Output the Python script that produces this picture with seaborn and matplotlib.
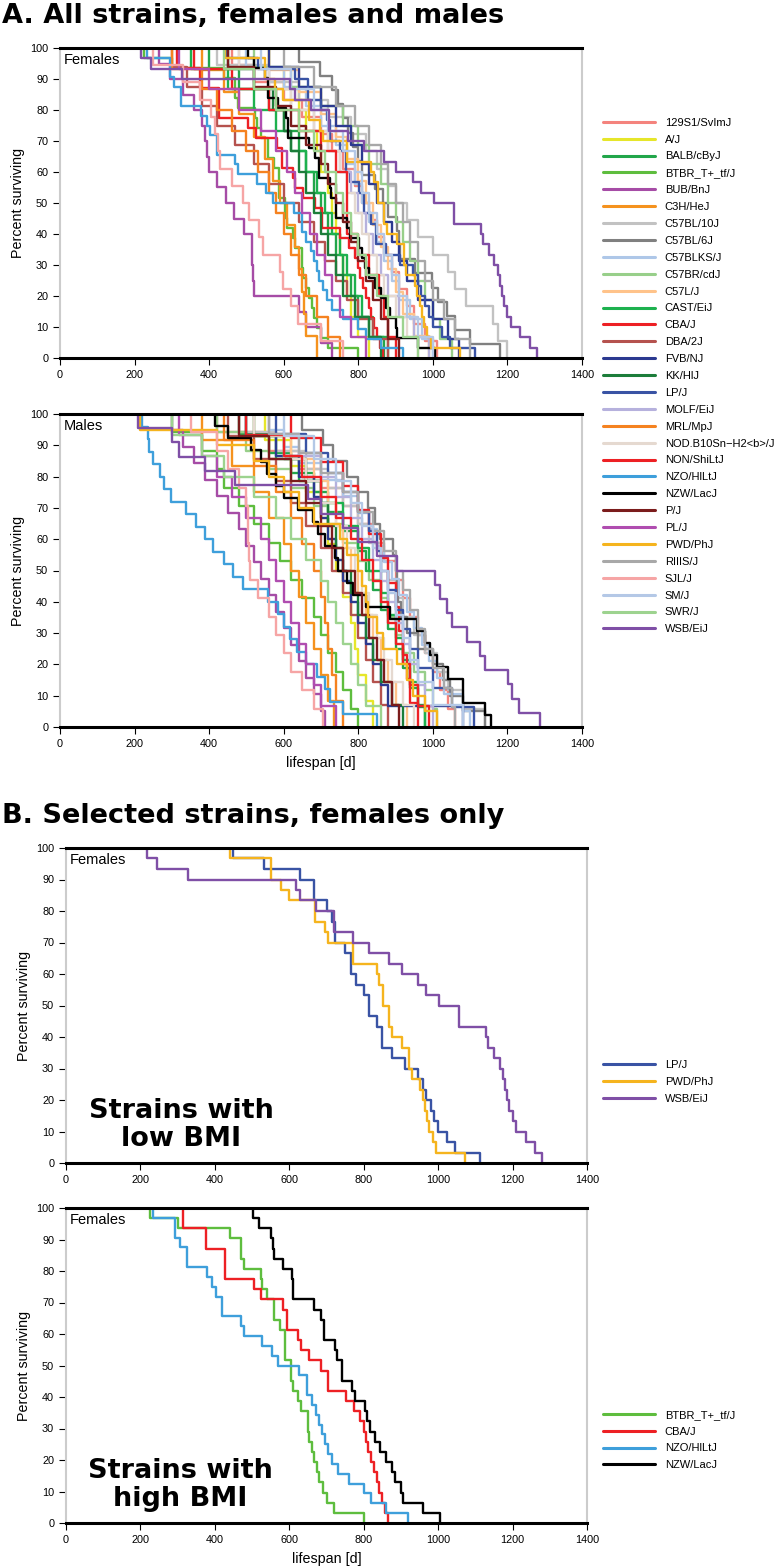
import matplotlib
matplotlib.use("Agg")
import matplotlib.pyplot as plt
import numpy as np
import pandas as pd
import seaborn as sns
from matplotlib.lines import Line2D

sns.set_theme(style="white")
plt.rcParams["font.family"] = ["Liberation Sans", "DejaVu Sans"]
plt.rcParams.update({"text.color": "black", "axes.labelcolor": "black",
                     "xtick.color": "black", "ytick.color": "black"})

strains = ["129S1/SvImJ", "A/J", "BALB/cByJ", "BTBR_T+_tf/J", "BUB/BnJ", "C3H/HeJ",
           "C57BL/10J", "C57BL/6J", "C57BLKS/J", "C57BR/cdJ", "C57L/J", "CAST/EiJ",
           "CBA/J", "DBA/2J", "FVB/NJ", "KK/HlJ", "LP/J", "MOLF/EiJ", "MRL/MpJ",
           "NOD.B10Sn\u2212H2<b>/J", "NON/ShiLtJ", "NZO/HlLtJ", "NZW/LacJ", "P/J", "PL/J",
           "PWD/PhJ", "RIIIS/J", "SJL/J", "SM/J", "SWR/J", "WSB/EiJ"]
colors = ["#f4837d", "#e6e62a", "#22a64a", "#5ebd3e", "#a64ca6", "#f5921e",
          "#c2c2c2", "#808080", "#aec7e8", "#98cf8a", "#ffc38a", "#1db14e",
          "#ed2024", "#b5524e", "#2b3990", "#1c7d3a", "#3953a4", "#b6b1dd", "#f58220",
          "#e5d9d0", "#ed2024", "#3e9fdb", "#000000", "#7b1c1c", "#b04db0",
          "#f5b41e", "#a8a8a8", "#f6a5a5", "#b4c8e6", "#9dd38f", "#7f4fa6"]

# lifespans in days, females
f_129s1 = [460, 520, 600, 650, 700, 730, 760, 790, 810, 830, 850, 870, 890, 910, 930, 950, 980, 1010]
f_aj = [560, 600, 640, 660, 690, 700, 720, 730, 740, 750, 760, 770, 780, 800, 830]
f_balb = [400, 480, 560, 600, 640, 660, 680, 700, 720, 740, 760, 780, 800, 830, 870]
f_btbr = [225, 300, 440, 469, 469, 478, 523, 528, 539, 559, 559, 575, 588, 588, 588, 604,
          604, 609, 624, 631, 649, 649, 653, 660, 667, 675, 680, 690, 700, 720, 800]
f_bub = [265, 295, 330, 360, 380, 390, 395, 400, 420, 445, 467, 494, 514, 515, 518, 520,
         640, 660, 700, 730]
f_c3h = [380, 440, 480, 520, 550, 571, 590, 610, 630, 640, 650, 655, 660, 690]
f_b10 = [420, 560, 640, 720, 780, 820, 850, 880, 900, 930, 960, 1000, 1040, 1060, 1090,
         1162, 1175, 1200]
f_b6 = [640, 697, 729, 746, 760, 773, 786, 800, 809, 845, 866, 880, 903, 910, 912, 952,
        997, 1014, 1037, 1060, 1100, 1180]
f_blks = [500, 600, 660, 700, 740, 770, 790, 810, 830, 850, 870, 890, 910, 940, 970, 1000]
f_br = [520, 620, 700, 760, 800, 830, 860, 880, 900, 920, 940, 960, 980, 1000, 1020, 1050]
f_c57l = [560, 640, 700, 740, 770, 800, 820, 840, 860, 880, 900, 920, 950, 990]
f_cast = [350, 450, 520, 580, 620, 660, 690, 710, 730, 750, 770, 790, 810, 840, 880]
f_cba = [315, 315, 375, 375, 426, 426, 426, 505, 525, 582, 595, 595, 624, 631, 653, 685,
         703, 703, 752, 775, 790, 800, 805, 812, 820, 828, 835, 842, 850, 858, 866]
f_dba = [300, 340, 380, 420, 470, 520, 560, 600, 640, 680, 710, 740, 770, 800, 840, 880]
f_fvb = [560, 640, 700, 740, 780, 810, 830, 850, 870, 890, 910, 930, 960, 1000, 1040, 1070]
f_kk = [450, 520, 570, 600, 620, 640, 660, 680, 700, 720, 740, 760, 790, 830, 860]
f_lp = [448, 532, 629, 666, 666, 700, 716, 724, 724, 750, 766, 766, 779, 801, 815, 815,
        835, 848, 848, 875, 911, 947, 960, 968, 980, 990, 1000, 1025, 1045, 1112]
f_molf = [480, 560, 620, 680, 720, 750, 780, 800, 820, 840, 860, 880, 910, 950, 990]
f_mrl = [300, 380, 420, 460, 500, 530, 560, 580, 600, 620, 640, 660, 690, 720, 750]
f_nod = [480, 560, 620, 680, 720, 750, 770, 790, 810, 830, 850, 870, 900, 930, 960]
f_non = [360, 460, 560, 640, 700, 740, 770, 770, 770, 800, 830, 855, 870, 880, 900]
f_nzo = [233, 294, 294, 307, 324, 324, 378, 393, 402, 420, 420, 469, 478, 528, 553, 570,
         627, 648, 648, 660, 672, 680, 688, 695, 705, 715, 730, 760, 800, 820, 860, 920]
f_nzw = [503, 519, 550, 557, 559, 584, 607, 611, 611, 667, 685, 694, 694, 723, 728, 741,
         741, 769, 777, 803, 810, 817, 830, 845, 860, 875, 885, 900, 905, 960, 1005]
f_pj = [450, 520, 580, 620, 660, 700, 720, 740, 760, 780, 800, 820, 840, 860, 880, 910]
f_pl = [320, 400, 480, 540, 580, 610, 630, 650, 670, 690, 710, 730, 750, 780, 820]
f_pwd = [442, 550, 550, 577, 598, 669, 669, 696, 705, 770, 770, 835, 842, 853, 853, 869,
         869, 877, 904, 922, 922, 929, 951, 958, 965, 970, 976, 985, 995, 1072]
f_riiis = [600, 680, 740, 790, 830, 860, 880, 900, 920, 940, 960, 980, 1000, 1030, 1060, 1100]
f_sjl = [250, 330, 375, 405, 415, 424, 430, 460, 490, 508, 535, 544, 589, 597, 620, 638, 700, 760]
f_sm = [540, 620, 680, 720, 760, 790, 810, 830, 850, 870, 890, 910, 930, 960, 1000]
f_swr = [440, 520, 580, 640, 680, 710, 740, 760, 780, 800, 820, 850, 880, 920, 960]
f_wsb = [218, 244, 328, 618, 629, 672, 721, 721, 772, 814, 868, 902, 947, 967, 1002, 1056,
         1056, 1128, 1135, 1150, 1165, 1175, 1180, 1185, 1190, 1200, 1210, 1235, 1260, 1278]

# lifespans in days, males
m_129s1 = [420, 560, 640, 700, 760, 800, 840, 870, 900, 920, 940, 960, 980, 1000, 1020, 1040, 1060]
m_aj = [550, 620, 660, 700, 720, 740, 760, 780, 790, 800, 820, 840]
m_balb = [480, 560, 620, 680, 720, 760, 800, 820, 840, 860, 880, 900, 920, 940, 960, 980]
m_btbr = [300, 380, 420, 440, 480, 520, 560, 590, 620, 650, 680, 700, 720, 740, 760, 780, 800]
m_bub = [300, 330, 360, 390, 420, 450, 480, 500, 520, 540, 560, 580, 600, 620, 640, 660,
         680, 700, 710]
m_c3h = [380, 460, 520, 560, 600, 620, 640, 660, 680, 700, 720, 735]
m_b10 = [480, 580, 660, 720, 760, 800, 830, 860, 880, 900, 920, 950, 980, 1010, 1040, 1080, 1140]
m_b6 = [650, 705, 732, 769, 800, 826, 845, 858, 893, 900, 903, 907, 915, 930, 960, 1001,
        1028, 1046, 1080, 1140]
m_blks = [560, 600, 640, 700, 760, 800, 830, 850, 870, 890, 910, 930, 950, 970, 990, 1010,
          1030, 1080, 1100]
m_br = [420, 500, 560, 620, 680, 720, 760, 800, 830, 860, 880, 900, 920, 950, 980, 1000, 1010]
m_c57l = [520, 620, 680, 720, 740, 760, 780, 800, 820, 840, 860, 880, 900, 930]
m_cast = [500, 580, 640, 700, 760, 800, 830, 860, 880, 900, 920, 940, 960, 980]
m_cba = [620, 700, 760, 800, 830, 860, 880, 900, 910, 920, 930, 940, 960]
m_dba = [450, 520, 580, 620, 660, 700, 730, 760, 780, 800, 820, 840, 860, 880]
m_fvb = [500, 580, 640, 680, 700, 720, 740, 760, 780, 800, 820, 840, 860, 880, 1080]
m_kk = [520, 600, 660, 700, 720, 740, 760, 780, 800, 820, 840, 860, 890, 920]
m_lp = [580, 660, 720, 760, 800, 830, 850, 860, 880, 900, 920, 940, 960, 1000, 1050, 1110]
m_molf = [560, 640, 700, 740, 780, 810, 840, 860, 880, 900, 920, 940, 960, 980, 1000]
m_mrl = [440, 520, 580, 620, 650, 680, 700, 710, 720, 730, 740, 760]
m_nod = [520, 600, 660, 700, 740, 770, 790, 810, 830, 850, 870, 890, 920, 950]
m_non = [500, 600, 650, 700, 740, 780, 810, 840, 860, 880, 900, 920, 940, 960, 990]
m_nzo = [221, 235, 240, 250, 268, 280, 299, 339, 366, 389, 411, 440, 465, 492, 559, 586,
         600, 617, 635, 660, 689, 710, 725, 760, 851]
m_nzw = [416, 450, 511, 538, 556, 578, 601, 637, 679, 692, 711, 737, 746, 769, 786, 822,
         885, 957, 979, 992, 1010, 1041, 1081, 1081, 1140, 1155]
m_pj = [480, 560, 620, 660, 700, 730, 760, 790, 810, 830, 850, 870, 890, 910]
m_pl = [320, 380, 420, 460, 500, 540, 560, 580, 600, 620, 640, 660, 680, 700, 740]
m_pwd = [215, 420, 520, 560, 600, 640, 680, 751, 770, 800, 809, 820, 826, 850, 866, 903,
         930, 947, 980, 1010]
m_riiis = [560, 640, 700, 760, 800, 840, 870, 900, 920, 940, 960, 980, 1000, 1030, 1050, 1060]
m_sjl = [350, 420, 450, 480, 500, 503, 505, 508, 510, 530, 560, 580, 600, 620, 650, 680, 705]
m_sm = [600, 680, 740, 780, 810, 840, 860, 880, 900, 920, 940, 960, 1000, 1080]
m_swr = [300, 380, 440, 520, 580, 620, 660, 700, 720, 740, 760, 780, 800, 820, 860]
m_wsb = [210, 300, 320, 390, 470, 665, 700, 760, 800, 850, 903, 1006, 1019, 1037, 1050,
         1091, 1126, 1140, 1202, 1211, 1231, 1287]

females = [f_129s1, f_aj, f_balb, f_btbr, f_bub, f_c3h, f_b10, f_b6, f_blks, f_br, f_c57l,
           f_cast, f_cba, f_dba, f_fvb, f_kk, f_lp, f_molf, f_mrl, f_nod, f_non, f_nzo,
           f_nzw, f_pj, f_pl, f_pwd, f_riiis, f_sjl, f_sm, f_swr, f_wsb]
males = [m_129s1, m_aj, m_balb, m_btbr, m_bub, m_c3h, m_b10, m_b6, m_blks, m_br, m_c57l,
         m_cast, m_cba, m_dba, m_fvb, m_kk, m_lp, m_molf, m_mrl, m_nod, m_non, m_nzo,
         m_nzw, m_pj, m_pl, m_pwd, m_riiis, m_sjl, m_sm, m_swr, m_wsb]

low_bmi = ["LP/J", "PWD/PhJ", "WSB/EiJ"]
high_bmi = ["BTBR_T+_tf/J", "CBA/J", "NZO/HlLtJ", "NZW/LacJ"]

pal = dict(zip(strains, colors))


def survival_table(groups, names):
    rows = []
    for name, days in zip(strains, groups):
        if name not in names:
            continue
        t, c = np.unique(days, return_counts=True)
        s = 100 * (1 - np.cumsum(c) / len(days))
        for x, y in zip(np.r_[0, t], np.r_[100, s]):
            rows.append((name, x, y))
    return pd.DataFrame(rows, columns=["strain", "day", "pct"])


W, H = 780, 1566
fig = plt.figure(figsize=(W / 100, H / 100), dpi=100)


def add_ax(l, t, r, b):
    return fig.add_axes([l / W, 1 - b / H, (r - l) / W, (b - t) / H])


def draw(ax, groups, names, tag, xlabel):
    df = survival_table(groups, names)
    sns.lineplot(data=df, x="day", y="pct", hue="strain", hue_order=names, palette=pal,
                 estimator=None, sort=False, drawstyle="steps-post", lw=1.7,
                 legend=False, ax=ax)
    ax.set_xlim(0, 1400)
    ax.set_ylim(0, 100)
    ax.set_xticks(range(0, 1401, 200))
    ax.set_yticks(range(0, 101, 10))
    for s in ["left", "right"]:
        ax.spines[s].set_color("#cccccc")
        ax.spines[s].set_linewidth(1.5)
    for s in ["top", "bottom"]:
        ax.spines[s].set_color("black")
        ax.spines[s].set_linewidth(2.2)
        ax.spines[s].set_zorder(5)
    ax.tick_params(direction="out", length=5, width=0.8, labelsize=7.8, pad=3.5,
                   color="black", left=True, bottom=True)
    ax.set_ylabel("Percent surviving", fontsize=10.3, labelpad=4)
    ax.set_xlabel("lifespan [d]" if xlabel else "", fontsize=10.3, labelpad=5)
    ax.text(0.008, 0.985, tag, transform=ax.transAxes, va="top", ha="left", fontsize=10.5)


def legend(names, cy):
    handles = [Line2D([], [], color=pal[n], lw=2.2) for n in names]
    fig.legend(handles, names, loc="center left", bbox_to_anchor=(603 / W, 1 - cy / H),
               frameon=False, fontsize=8.0, handlelength=4.7, handletextpad=0.85,
               labelspacing=0.62, borderaxespad=0, borderpad=0)


draw(add_ax(60, 48, 582, 358), females, strains, "Females", False)
draw(add_ax(60, 414, 582, 727), males, strains, "Males", True)
legend(strains, 376)

ax3 = add_ax(66, 848, 587, 1163)
draw(ax3, females, low_bmi, "Females", False)
legend(low_bmi, 1082)

ax4 = add_ax(66, 1208, 587, 1523)
draw(ax4, females, high_bmi, "Females", True)
legend(high_bmi, 1440)

bold = dict(family="DejaVu Sans", fontweight="bold", fontsize=19.5, color="black")
fig.text(2 / W, 1 - 23 / H, "A. All strains, females and males", va="baseline", **bold)
fig.text(2 / W, 1 - 823 / H, "B. Selected strains, females only", va="baseline", **bold)
fig.text(181 / W, 1 - 1146 / H, "Strains with\nlow BMI", ha="center", va="baseline",
         multialignment="center", linespacing=1.1, **bold)
fig.text(180 / W, 1 - 1506 / H, "Strains with\nhigh BMI", ha="center", va="baseline",
         multialignment="center", linespacing=1.1, **bold)

fig.savefig("out.png", dpi=100)
